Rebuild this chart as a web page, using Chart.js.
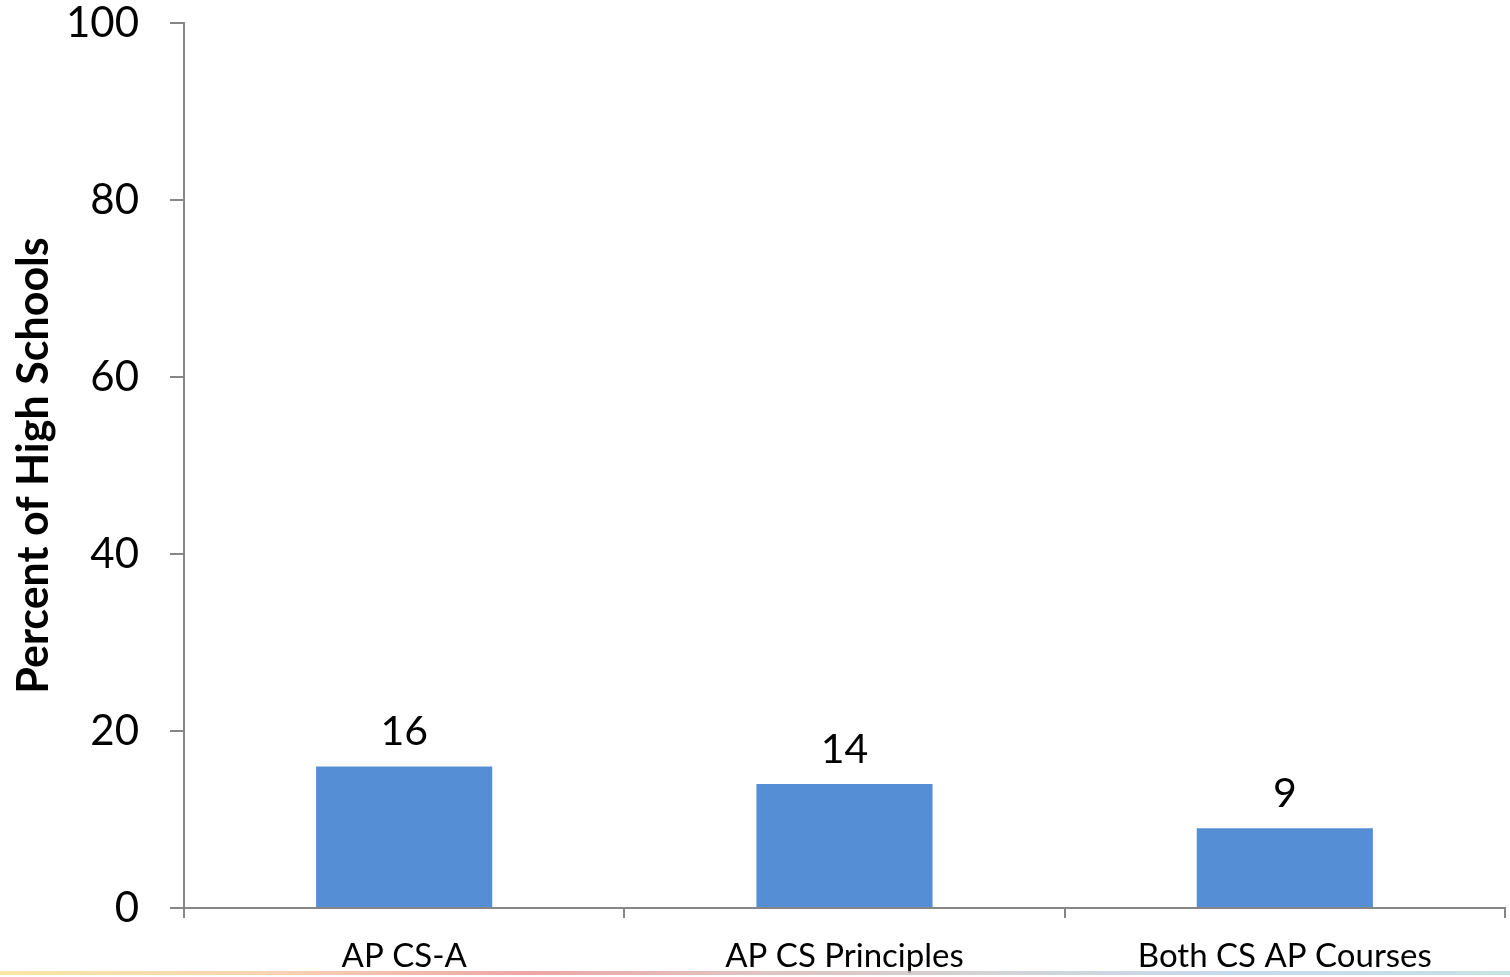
<!DOCTYPE html>
<html>
<head>
<meta charset="utf-8">
<script src="https://cdn.jsdelivr.net/npm/chart.js@4.4.0/dist/chart.umd.min.js"></script>
<style>
  body { margin: 0; background: #fff; }
  #wrap { position: relative; width: 1510px; height: 977px; }
  #strip {
    position: absolute; left: 0; top: 971px; width: 1510px; height: 4px;
    background: linear-gradient(to right, #f8e08e 0%, #f6c9a0 18%, #e98f8f 35%, #d9b3b3 50%, #c8c8c8 65%, #b8d0ea 82%, #b7dcdc 100%);
    opacity: 0.8;
  }
</style>
</head>
<body>
<div id="wrap">
  <canvas id="chart"></canvas>
  <div id="strip"></div>
</div>
<script>
// Data
const categories = ['AP CS-A', 'AP CS Principles', 'Both CS AP Courses'];
const percentValues = [16, 14, 9];
const yTicks = [0, 20, 40, 60, 80, 100];

const FONT = 'Lato, Carlito, Calibri, "Open Sans", sans-serif';
const AXIS_GRAY = '#868686';
const BAR_BLUE = '#558ED5';

// Value labels above each bar
const barLabels = {
    id: 'barLabels',
    afterDatasetsDraw(chart) {
        const ctx = chart.ctx;
        const meta = chart.getDatasetMeta(0);
        ctx.save();
        ctx.font = '41px ' + FONT;
        ctx.fillStyle = '#000';
        ctx.textAlign = 'center';
        ctx.textBaseline = 'bottom';
        meta.data.forEach((bar, i) => {
            ctx.fillText(String(percentValues[i]), bar.x, bar.y - 14);
        });
        ctx.restore();
    }
};

const ctx = document.getElementById('chart').getContext('2d');
new Chart(ctx, {
    type: 'bar',
    data: {
        labels: categories,
        datasets: [{
            data: percentValues,
            backgroundColor: BAR_BLUE,
            borderWidth: 0,
            categoryPercentage: 1.0,
            barPercentage: 0.4
        }]
    },
    options: {
        responsive: true,
        maintainAspectRatio: false,
        animation: false,
        layout: {
            padding: { top: 23, right: 5, left: 0, bottom: 0 }
        },
        scales: {
            x: {
                grid: {
                    display: true,
                    offset: true,
                    drawOnChartArea: false,
                    drawTicks: true,
                    tickLength: 10,
                    color: AXIS_GRAY,
                    lineWidth: 2
                },
                border: { display: true, color: AXIS_GRAY, width: 2 },
                ticks: {
                    color: '#000',
                    font: { family: FONT, size: 33 },
                    padding: 19,
                    maxRotation: 0
                },
                afterFit(scale) {
                    scale.height = 69;
                    scale.paddingLeft = 0;
                    scale.paddingRight = 0;
                }
            },
            y: {
                min: 0,
                max: 100,
                afterBuildTicks(scale) {
                    scale.ticks = yTicks.map(v => ({ value: v }));
                },
                grid: {
                    display: true,
                    drawOnChartArea: false,
                    drawTicks: true,
                    tickLength: 14,
                    color: AXIS_GRAY,
                    lineWidth: 2
                },
                border: { display: true, color: AXIS_GRAY, width: 2 },
                ticks: {
                    color: '#000',
                    font: { family: FONT, size: 42 },
                    padding: 31
                },
                title: {
                    display: true,
                    text: 'Percent of High Schools',
                    color: '#000',
                    font: { family: FONT, size: 43, weight: 'bold' },
                    padding: { top: 8, bottom: 0 }
                },
                afterFit(scale) {
                    scale.width = 184;
                    scale.paddingTop = 0;
                    scale.paddingBottom = 0;
                }
            }
        },
        plugins: {
            legend: { display: false },
            tooltip: { enabled: false }
        }
    },
    plugins: [barLabels]
});
</script>
</body>
</html>
